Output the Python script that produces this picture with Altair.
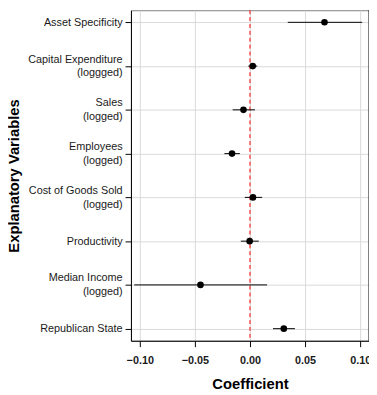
import altair as alt
import pandas as pd

variables = [
    "Asset Specificity",
    "Capital Expenditure\n(loggged)",
    "Sales\n(logged)",
    "Employees\n(logged)",
    "Cost of Goods Sold\n(logged)",
    "Productivity",
    "Median Income\n(logged)",
    "Republican State",
]
estimates = [0.0676, 0.0025, -0.0059, -0.0163, 0.0027, -0.0003, -0.0449, 0.0307]
lower = [0.0343, -0.0015, -0.0157, -0.0232, -0.0047, -0.0083, -0.1050, 0.0209]
upper = [0.1018, 0.0066, 0.0045, -0.0092, 0.0110, 0.0080, 0.0155, 0.0408]
x_ticks = [-0.10, -0.05, 0.0, 0.05, 0.10]
zero_line = [0.0]

df = pd.DataFrame({"var": variables, "est": estimates, "lo": lower, "hi": upper})
FONT = "Liberation Sans"
W, H = 242, 336

x_scale = alt.Scale(domain=[-0.108, 0.108], nice=False, zero=False)
y_scale = alt.Scale(type="point", domain=variables, padding=0.276)

x_axis = alt.Axis(
    values=x_ticks, format=".2f", title="Coefficient",
    titleFont=FONT, titleFontSize=15, titleFontWeight="bold", titleColor="#000",
    titleX=W / 2, titleY=49, titleBaseline="alphabetic", titleAnchor="middle",
    labelFont=FONT, labelFontSize=11, labelFontWeight="bold", labelColor="#1a1a1a",
    labelPadding=8, tickSize=6, tickColor="#000", domainColor="#000",
    grid=True, gridColor="#d9d9d9", gridWidth=1,
)
y_axis = alt.Axis(
    title="Explanatory Variables",
    titleFont=FONT, titleFontSize=15, titleFontWeight="bold", titleColor="#000",
    titleX=-119, titleY=H / 2, titleAngle=-90, titleBaseline="middle", titleAlign="center",
    labelFont=FONT, labelFontSize=11, labelColor="#1a1a1a", labelLineHeight=14,
    labelExpr="split(datum.label, '\\n')", labelPadding=3, labelAlign="right",
    labelOffset={"condition": {"test": "indexof(datum.value, '\\n') >= 0", "value": -7}, "value": 0},
    tickSize=6, tickColor="#000", domainColor="#000",
    grid=True, gridColor="#d9d9d9", gridWidth=1,
)

base = alt.Chart(df)

bars = base.mark_rule(color="#000", strokeWidth=1).encode(
    x=alt.X("lo:Q", scale=x_scale, axis=x_axis),
    x2="hi:Q",
    y=alt.Y("var:N", scale=y_scale, axis=y_axis, sort=variables),
)
points = base.mark_circle(color="#000", opacity=1, size=45).encode(
    x=alt.X("est:Q", scale=x_scale),
    y=alt.Y("var:N", scale=y_scale, sort=variables),
)
zero = alt.Chart(pd.DataFrame({"z": zero_line})).mark_rule(
    color="#ff0000", strokeDash=[4, 3], strokeWidth=1
).encode(x=alt.X("z:Q", scale=x_scale))
right_border = alt.Chart(pd.DataFrame({"a": [0]})).mark_rule(color="#000", strokeWidth=1).encode(
    x=alt.value(W), y=alt.value(0), y2=alt.value(H)
)

chart = alt.layer(zero, bars, points, right_border).properties(
    width=W, height=H,
    autosize=alt.AutoSizeParams(type="none"),
    padding={"left": 125, "top": -1, "right": 0, "bottom": 60},
).configure_view(stroke="#808080", strokeWidth=1)

chart.save("out.html", embed_options={"renderer": "svg", "actions": False})
